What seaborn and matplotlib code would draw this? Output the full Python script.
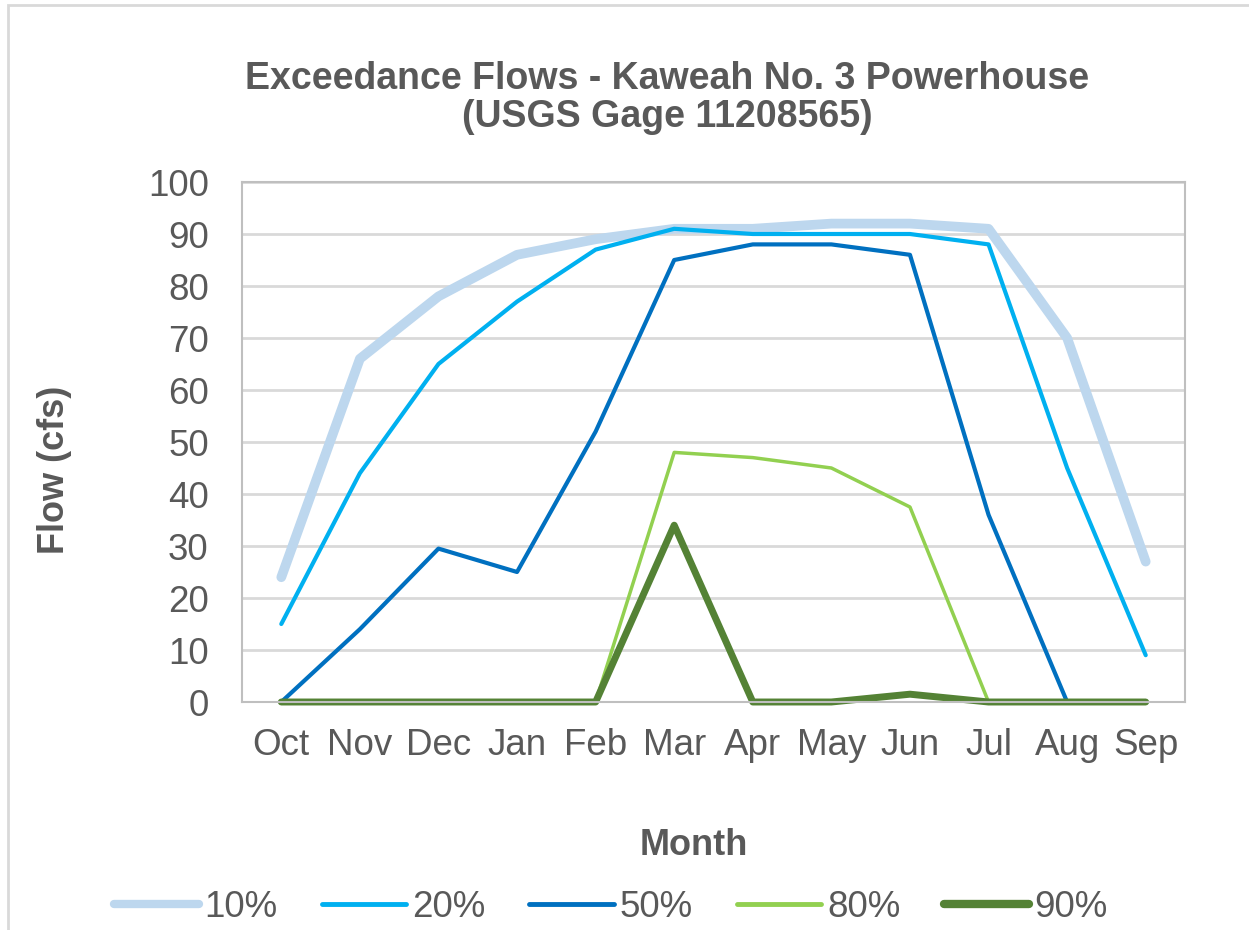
import numpy as np
import matplotlib
matplotlib.use("Agg")
import matplotlib.pyplot as plt
import matplotlib.patches as patches
import seaborn as sns
import pandas as pd

months = ["Oct", "Nov", "Dec", "Jan", "Feb", "Mar", "Apr", "May", "Jun", "Jul", "Aug", "Sep"]
p10 = [24, 66, 78, 86, 89, 91, 91, 92, 92, 91, 70, 27]
p20 = [15, 44, 65, 77, 87, 91, 90, 90, 90, 88, 45, 9]
p50 = [0, 14, 29.5, 25, 52, 85, 88, 88, 86, 36, 0, 0]
p80 = [0, 0, 0, 0, 0, 48, 47, 45, 37.5, 0, 0, 0]
p90 = [0, 0, 0, 0, 0, 34, 0, 0, 1.5, 0, 0, 0]
labels = ["10%", "20%", "50%", "80%", "90%"]

colours = ["#BDD7EE", "#00B0F0", "#0070C0", "#92D050", "#548235"]
widths = [7, 3, 3, 2.5, 5]
leg_widths = [6, 3.5, 3.5, 3.5, 6]
txt = "#595959"

sns.set_theme(style="white")
plt.rcParams["font.family"] = ["Liberation Sans", "DejaVu Sans"]

fig = plt.figure(figsize=(12.49, 9.30), dpi=100)
ax = fig.add_axes([242 / 1249, 1 - 702 / 930, (1185 - 242) / 1249, (702 - 182) / 930])

# chart border (Excel-style chart area)
fig.patches.append(patches.Rectangle((8 / 1249, -0.1), 1.2, 1 - 5 / 930 + 0.1,
                                     transform=fig.transFigure, fill=False,
                                     edgecolor="#D9D9D9", linewidth=2))

series = [p10, p20, p50, p80, p90]
for i in range(len(series)):
    df = pd.DataFrame({"Month": months, "Flow": series[i]})
    sns.lineplot(data=df, x="Month", y="Flow", sort=False, color=colours[i],
                 linewidth=widths[i], label=labels[i], ax=ax)

for ln in ax.lines:
    ln.set_clip_on(False)
    ln.set_solid_capstyle("round")

ax.set_xlim(-0.5, 11.5)
ax.set_ylim(0, 100)
ax.set_yticks(range(0, 101, 10))
ax.yaxis.grid(True, color="#D9D9D9", linewidth=2)
ax.set_axisbelow(True)
for s in ax.spines.values():
    s.set_color("#BFBFBF")
    s.set_linewidth(1.5)
ax.tick_params(axis="y", length=0, pad=24, labelsize=26.5, labelcolor=txt)
ax.tick_params(axis="x", length=0, pad=19, labelsize=26.5, labelcolor=txt)
ax.set_xlabel("")
ax.set_ylabel("")

fig.text(667 / 1249, 1 - 98 / 930, "Exceedance Flows - Kaweah No. 3 Powerhouse\n(USGS Gage 11208565)",
         ha="center", va="center", fontsize=27, fontweight="bold", color=txt, linespacing=1.05)
fig.text(694 / 1249, 1 - 845 / 930, "Month", ha="center", va="center",
         fontsize=26, fontweight="bold", color=txt)
fig.text(55 / 1249, 1 - 470 / 930, "Flow (cfs)", ha="center", va="center", rotation=90,
         fontsize=26, fontweight="bold", color=txt)

leg = ax.legend(loc="center", bbox_to_anchor=(611 / 1249, 1 - 907 / 930),
                bbox_transform=fig.transFigure, ncol=5, frameon=False,
                fontsize=26.5, handlelength=2.3, handletextpad=0.15, columnspacing=1.2,
                labelcolor=txt)
for h, w in zip(leg.get_lines(), leg_widths):
    h.set_linewidth(w)

fig.savefig("out.png", dpi=100)
